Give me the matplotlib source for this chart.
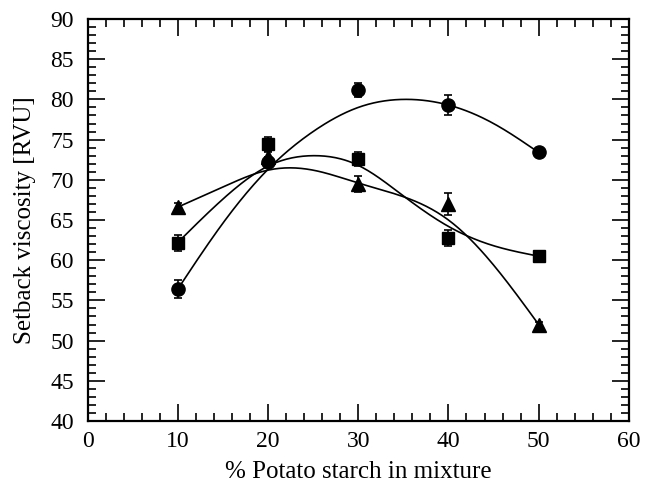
import numpy as np
import matplotlib.pyplot as plt
from matplotlib.ticker import MultipleLocator

plt.rcParams['font.family'] = ['Liberation Serif', 'DejaVu Serif']

# % potato starch in the mixture
x = [10, 20, 30, 40, 50]

# setback viscosity [RVU] and standard deviations
y_circ = [56.4, 72.2, 81.2, 79.3, 73.4]
e_circ = [1.1, 0.6, 0.9, 1.2, 0.3]
y_sq = [62.1, 74.4, 72.6, 62.8, 60.5]
e_sq = [1.0, 0.9, 0.9, 1.0, 0.3]
y_tri = [66.6, 72.8, 69.5, 67.0, 52.0]
e_tri = [0.5, 0.8, 1.0, 1.4, 0.3]

# smoothed trend lines
x_fit = [10, 15, 20, 25, 30, 35, 40, 45, 50]
fit_circ = [56.4, 64.6, 71.3, 76.0, 79.0, 80.0, 79.3, 77.0, 73.4]
fit_sq = [62.2, 67.6, 71.7, 73.0, 71.8, 68.0, 64.2, 61.8, 60.5]
fit_tri = [66.6, 69.1, 71.2, 71.2, 69.6, 67.9, 65.0, 59.4, 52.0]


def spline(xk, yk, n=200):
    # natural cubic spline through the knots
    xk = np.asarray(xk, float)
    yk = np.asarray(yk, float)
    h = np.diff(xk)
    m = len(xk)
    A = np.zeros((m, m))
    r = np.zeros(m)
    A[0, 0] = A[-1, -1] = 1
    for i in range(1, m - 1):
        A[i, i - 1] = h[i - 1]
        A[i, i] = 2 * (h[i - 1] + h[i])
        A[i, i + 1] = h[i]
        r[i] = 6 * ((yk[i + 1] - yk[i]) / h[i] - (yk[i] - yk[i - 1]) / h[i - 1])
    M = np.linalg.solve(A, r)
    xs = np.linspace(xk[0], xk[-1], n)
    j = np.clip(np.searchsorted(xk, xs) - 1, 0, m - 2)
    t0 = xk[j + 1] - xs
    t1 = xs - xk[j]
    hj = h[j]
    ys = (M[j] * t0**3 + M[j + 1] * t1**3) / (6 * hj) \
        + (yk[j] / hj - M[j] * hj / 6) * t0 \
        + (yk[j + 1] / hj - M[j + 1] * hj / 6) * t1
    return xs, ys


fig = plt.figure(figsize=(6.46, 5.0), dpi=100)
ax = fig.add_axes([0.1355, 0.158, 0.838, 0.804])

for yv, ev, fv, m, ms in [(y_circ, e_circ, fit_circ, 'o', 9.5),
                          (y_sq, e_sq, fit_sq, 's', 8),
                          (y_tri, e_tri, fit_tri, '^', 10)]:
    ax.errorbar(x, yv, yerr=ev, fmt=m, color='black', markersize=ms,
                capsize=3, elinewidth=1.2, capthick=1.2, zorder=3)
    xs, ys = spline(x_fit, fv)
    ax.plot(xs, ys, color='black', lw=1.2, zorder=2)

ax.set_xlim(0, 60)
ax.set_ylim(40, 90)
ax.xaxis.set_major_locator(MultipleLocator(10))
ax.xaxis.set_minor_locator(MultipleLocator(2))
ax.yaxis.set_major_locator(MultipleLocator(5))
ax.yaxis.set_minor_locator(MultipleLocator(1))
ax.tick_params(which='both', direction='in', top=True, right=True,
               labelsize=17, width=1.2)
ax.tick_params(which='major', length=12)
ax.tick_params(axis='x', which='major', pad=7)
ax.tick_params(axis='y', which='major', pad=10)
ax.tick_params(which='minor', length=6)
for s in ax.spines.values():
    s.set_linewidth(1.6)

ax.set_xlabel('% Potato starch in mixture', fontsize=18, labelpad=7)
ax.set_ylabel('Setback viscosity [RVU]', fontsize=18, labelpad=10)

fig.savefig('out.png', dpi=100)
